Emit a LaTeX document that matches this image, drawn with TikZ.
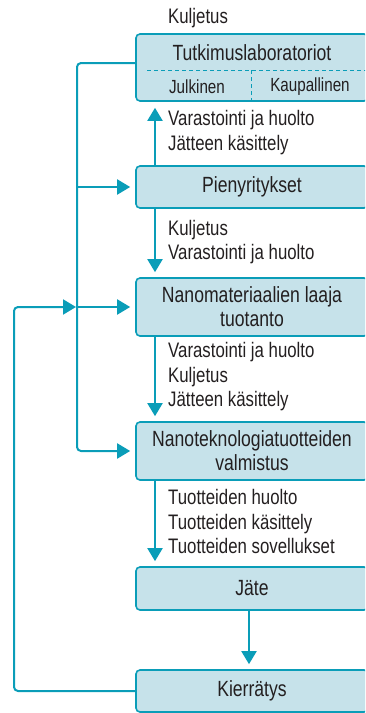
\documentclass[tikz,border=0pt]{standalone}
\usepackage{fontspec}
\setmainfont{Liberation Sans}[FakeStretch=0.8]
\usetikzlibrary{arrows.meta,calc}

\definecolor{flowteal}{HTML}{0A9DB8}
\definecolor{boxfill}{HTML}{C6E2EA}
\definecolor{inkgray}{HTML}{231F20}

\tikzset{
  stagebox/.style={draw=flowteal, fill=boxfill, line width=1.6pt, rounded corners=4pt,
    minimum width=232pt, inner sep=0pt, align=center, text=inkgray,
    font=\fontsize{22}{24}\selectfont},
  flow/.style={draw=flowteal, line width=2pt},
  flowarrow/.style={flow, -{Triangle[width=15pt,length=13pt]}, shorten >=5pt},
  steplabel/.style={anchor=west, align=left, inner sep=0pt, text=inkgray,
    font=\fontsize{21}{24.5}\selectfont},
}

\begin{document}
\begin{tikzpicture}[x=1pt, y=-1pt]
  \path[use as bounding box, clip] (0,0) rectangle (365,713);

  % stages
  \node [stagebox, minimum height=67pt] (lab) at (252,67.5) {};
  \node [stagebox, minimum height=42pt] (small) at (252,187) {Pienyritykset};
  \node [stagebox, minimum height=58pt] (mass) at (252,307) {Nanomateriaalien laaja\\tuotanto};
  \node [stagebox, minimum height=58pt] (manu) at (252,451) {Nanoteknologiatuotteiden\\valmistus};
  \node [stagebox, minimum height=43pt] (waste) at (252,588.5) {Jäte};
  \node [stagebox, minimum height=42pt] (recyc) at (252,691) {Kierrätys};

  % inside the laboratory box
  \node [inner sep=0pt, text=inkgray, font=\fontsize{22}{24}\selectfont] (labt) at (252,53) {Tutkimuslaboratoriot};
  \node [inner sep=0pt, text=inkgray, font=\fontsize{19}{20}\selectfont] (pub) at (197,87) {Julkinen};
  \node [inner sep=0pt, text=inkgray, font=\fontsize{19}{20}\selectfont] (com) at (310,87) {Kaupallinen};
  \draw [flowteal, line width=1pt, dash pattern=on 4pt off 3pt] (147,70) -- (366,70);
  \draw [flowteal, line width=1pt, dash pattern=on 4pt off 3pt] (251,70) -- (251,101);

  % helper coordinates
  \coordinate (spine) at (77,300);
  \coordinate (outer) at (14,500);
  \coordinate (arrx) at (155,0);

  % labels
  \node [steplabel] (l0) at (168,18) {Kuljetus};
  \node [steplabel] (l1) at (168,132.5) {Varastointi ja huolto\\Jätteen käsittely};
  \node [steplabel] (l2) at (168,242) {Kuljetus\\Varastointi ja huolto};
  \node [steplabel] (l3) at (168,377) {Varastointi ja huolto\\Kuljetus\\Jätteen käsittely};
  \node [steplabel] (l4) at (168,521.5) {Tuotteiden huolto\\Tuotteiden käsittely\\Tuotteiden sovellukset};

  % vertical flow
  \draw [flowarrow, shorten >=6pt] (arrx |- small.north) -- (arrx |- lab.south);
  \draw [flowarrow] (arrx |- small.south) -- (arrx |- mass.north);
  \draw [flowarrow] (arrx |- mass.south) -- (arrx |- manu.north);
  \draw [flowarrow] (arrx |- manu.south) -- (arrx |- waste.north);
  \draw [flowarrow] ([xshift=-3pt]waste.south) -- ([xshift=-3pt]recyc.north);

  % left loops
  \draw [flowarrow, rounded corners=4pt] ([yshift=4.5pt]lab.west) -| (spine) |- (manu.west);
  \draw [flowarrow] (spine |- small.west) -- (small.west);
  \draw [flowarrow] (spine |- mass.west) -- (mass.west);
  \draw [flowarrow, rounded corners=4pt, shorten >=1pt] (recyc.west) -| (outer) |- (spine |- mass.west);
\end{tikzpicture}
\end{document}
